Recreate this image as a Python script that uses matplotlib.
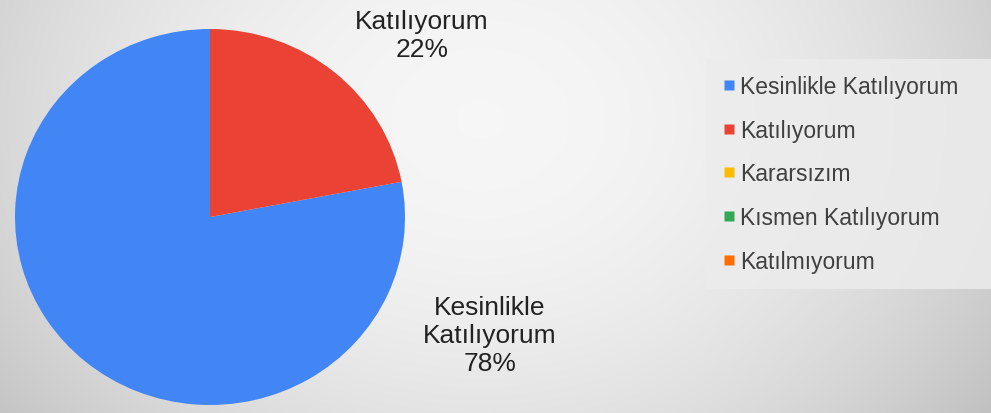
import numpy as np
import matplotlib
matplotlib.use('Agg')
import matplotlib.pyplot as plt
from matplotlib.lines import Line2D

plt.rcParams['font.family'] = ['Liberation Sans', 'DejaVu Sans']

# Survey answers and shares (%)
categories = ['Kesinlikle Katılıyorum', 'Katılıyorum', 'Kararsızım',
              'Kısmen Katılıyorum', 'Katılmıyorum']
shares = [78, 22, 0, 0, 0]
colors = ['#4285F4', '#EA4335', '#FBBC04', '#34A853', '#FF6D01']

W, H = 991, 414
fig = plt.figure(figsize=(W / 100, H / 100), dpi=100)

# radial grey background, smooth falloff
bg = fig.add_axes([0, 0, 1, 1])
yy, xx = np.mgrid[0:H, 0:W]
d2 = ((xx - 480) / 600.0) ** 2 + ((yy - 120) / 480.0) ** 2
shade = np.clip(0.965 - 0.19 * d2, 0.74, 1)
bg.imshow(np.dstack([shade] * 3), aspect='auto', extent=(0, W, H, 0),
          interpolation='bilinear')
bg.axis('off')

# pie (slightly wider than tall, like the original)
cx, cy, rx, ry = 210, 218, 195, 188
ax = fig.add_axes([(cx - rx) / W, (H - cy - ry) / H, 2 * rx / W, 2 * ry / H])
ax.pie(shares, colors=colors, startangle=90, counterclock=True,
       wedgeprops=dict(edgecolor='none'), radius=1)
ax.set_aspect('auto')
ax.set_xlim(-1, 1)
ax.set_ylim(-1, 1)
ax.axis('off')

# data labels
lab_kw = dict(ha='center', va='center', fontsize=19, color='#222222', linespacing=1.2)
fig.text(422 / W, 1 - 36 / H, f'{categories[1]}\n{shares[1]}%', **lab_kw)
fig.text(490 / W, 1 - 336 / H, f'Kesinlikle\nKatılıyorum\n{shares[0]}%', **lab_kw)

# legend, stretched to the right edge like the original
handles = [Line2D([], [], marker='s', linestyle='none', markersize=7,
                  markerfacecolor=c, markeredgecolor='none') for c in colors]
leg = fig.legend(handles, categories, loc='upper left', mode='expand',
                 bbox_to_anchor=(706 / W, 1 - 60 / H, (W - 706) / W, 0),
                 frameon=True, fontsize=16.5, labelspacing=0.9,
                 handlelength=0.6, handletextpad=0.2, borderpad=0.7,
                 borderaxespad=0)
leg.get_frame().set_facecolor('#ececec')
leg.get_frame().set_edgecolor('none')
leg.get_frame().set_alpha(0.85)
leg.get_frame().set_boxstyle('square', pad=0)
for t in leg.get_texts():
    t.set_color('#404040')

fig.savefig('out.png', dpi=100)
